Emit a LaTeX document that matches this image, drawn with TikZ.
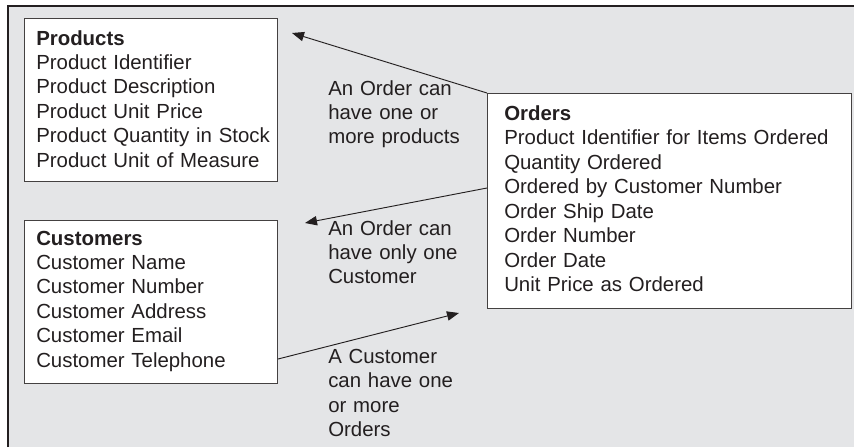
\documentclass[tikz,border=0pt]{standalone}
\usepackage{fontspec}
\setmainfont{Liberation Sans}
\usetikzlibrary{arrows.meta,calc}
\definecolor{bggray}{RGB}{228,229,231}
\definecolor{ink}{RGB}{35,31,32}
\begin{document}
\begin{tikzpicture}[x=0.75pt,y=-0.75pt,
  entity/.style={draw=ink!85, line width=0.8pt, fill=white, rectangle, inner sep=0pt, anchor=north west},
  txt/.style={anchor=base west, inner sep=0pt, text width=300pt, align=left, text=ink, font=\fontsize{15.3}{18.35}\selectfont},
  lbl/.style={txt, text width=130pt},
  rel/.style={draw=ink, line width=0.7pt, -{Triangle[length=9pt,width=7pt]}}]
\useasboundingbox (0,0) rectangle (854,447);
\fill[white] (0,0) rectangle (854,447);
\fill[bggray] (8,6) rectangle (854,447);
\draw[ink, line width=1pt] (8,447) -- (8,6) -- (854,6);

% entity boxes
\node[entity, minimum width=189.75pt, minimum height=122.25pt] (prod) at (24,18) {};
\node[entity, minimum width=189.75pt, minimum height=122.25pt] (cust) at (24,220) {};
\node[entity, minimum width=273pt, minimum height=161.25pt] (ord) at (487,93) {};

\node[txt] (prodtxt) at (36,45) {\textbf{Products}\\Product Identifier\\Product Description\\Product Unit Price\\Product Quantity in Stock\\Product Unit of Measure};
\node[txt] (custtxt) at (36,245) {\textbf{Customers}\\Customer Name\\Customer Number\\Customer Address\\Customer Email\\Customer Telephone};
\node[txt] (ordtxt) at (504,120.5) {\textbf{Orders}\\Product Identifier for Items Ordered\\Quantity Ordered\\Ordered by Customer Number\\Order Ship Date\\Order Number\\Order Date\\Unit Price as Ordered};

% relationship labels
\node[lbl] (l1) at (328,95) {An Order can\\have one or\\more products};
\node[lbl] (l2) at (328,235) {An Order can\\have only one\\Customer};
\node[lbl] (l3) at (328,363.5) {A Customer\\can have one\\or more\\Orders};

% connectors
\coordinate (t1) at (292,33);
\coordinate (s2) at ($(ord.north west)+(0,95)$);
\coordinate (t2) at (305,223);
\coordinate (s3) at ($(cust.north east)+(0,139)$);
\coordinate (t3) at (459,313);
\draw[rel] (ord.north west) -- (t1);
\draw[rel] (s2) -- (t2);
\draw[rel] (s3) -- (t3);
\end{tikzpicture}
\end{document}
